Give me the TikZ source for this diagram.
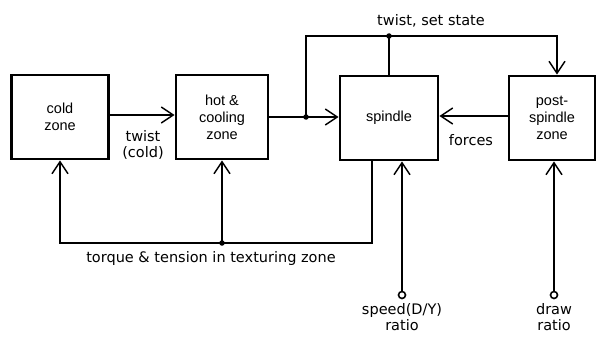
\documentclass[tikz,border=0pt]{standalone}
\usepackage{fontspec}
\setmainfont{Liberation Sans}
\newfontfamily\lblfont{DejaVu Sans}
\usetikzlibrary{calc,positioning,arrows.meta}

\begin{document}
\begin{tikzpicture}[x=1pt,y=-1pt,
    zone/.style={draw, line width=2.8pt, minimum height=84pt, align=center,
      font=\fontsize{14.5}{17}\selectfont},
    flow/.style={line width=1.6pt, -{Straight Barb[length=12pt,width=16pt,line width=1.5pt]}},
    wire/.style={line width=1.6pt},
    lbl/.style={font=\lblfont\fontsize{14.5}{16}\selectfont, align=center, inner sep=1pt},
    junc/.style={circle, fill, inner sep=0pt, minimum size=5.5pt},
    term/.style={circle, draw, line width=1.6pt, inner sep=0pt, minimum size=7pt}
  ]
  \useasboundingbox (0,0) rectangle (599,337);

  % blocks
  \node[zone, minimum width=97pt] (cold) at (60,117) {cold\\zone};
  \node[zone, minimum width=92pt] (hot) at (222,117) {hot \&\\cooling\\zone};
  \node[zone, minimum width=98pt] (spindle) at (389,118) {spindle};
  \node[zone, minimum width=86pt] (post) at (552,118) {post-\\spindle\\zone};

  % junctions
  \coordinate (j1) at (306,117);
  \coordinate (j2) at (389,36);
  \coordinate (j3) at (222,243);
  \coordinate (ptop) at ([xshift=5pt]post.north);
  \coordinate (sout) at ([xshift=-17pt]spindle.south);

  % forward path
  \draw[flow] ([yshift=2pt]cold.east) -- ([yshift=2pt]hot.west);
  \draw[wire] (hot.east) -- (j1);
  \draw[flow] (j1) -- (spindle.west |- j1);
  \draw[flow] (j1) |- (j2) -| (ptop);
  \draw[wire] (spindle.north) -- (j2);
  \draw[flow] ([yshift=2pt]post.west) -- ([yshift=2pt]spindle.east);

  % feedback
  \draw[flow] (sout) |- (j3) -| (cold.south);
  \draw[flow] (j3) -- (hot.south);

  \node[junc] at (j1) {};
  \node[junc] at (j2) {};
  \node[junc] at (j3) {};

  % inputs
  \node[term] (speed) at (402,295) {};
  \node[term] (drawin) at (554,295) {};
  \draw[flow] (speed) -- (speed |- spindle.south);
  \draw[flow] (drawin) -- (drawin |- post.south);

  % labels
  \node[lbl] at (143,145) {twist\\(cold)};
  \node[lbl] at (431,21) {twist, set state};
  \node[lbl] at (471,140) {forces};
  \node[lbl] at (211,258) {torque \& tension in texturing zone};
  \node[lbl, below=3pt of speed] {speed(D/Y)\\ratio};
  \node[lbl, below=3pt of drawin] {draw\\ratio};
\end{tikzpicture}
\end{document}
